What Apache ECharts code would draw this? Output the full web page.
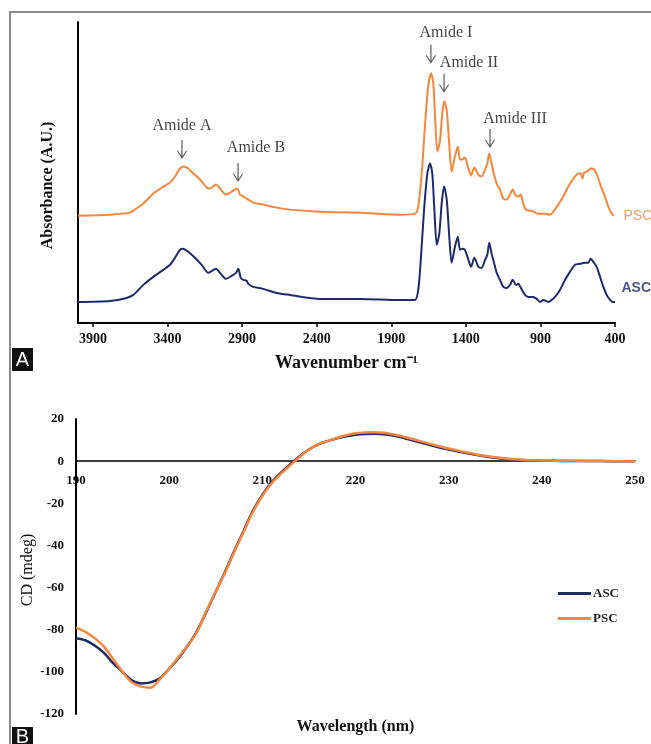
<!DOCTYPE html>
<html>
<head>
<meta charset="utf-8">
<script src="https://cdn.jsdelivr.net/npm/echarts@6/dist/echarts.min.js"></script>
<style>
  html, body { margin: 0; padding: 0; background: #fff; }
  #chart { width: 651px; height: 744px; }
</style>
</head>
<body>
<div id="chart"></div>
<script>
// ---- panel A : FTIR spectra (wavenumber cm-1 / absorbance A.U.) ----
const pscWn = [4000, 3785, 3651, 3618, 3562, 3495, 3428, 3383, 3350, 3316, 3294, 3261, 3227, 3182, 3137, 3115, 3075, 3048, 3008, 2970, 2932, 2914, 2892, 2858, 2825, 2758, 2668, 2579, 2378, 2110, 1841, 1741, 1719, 1696, 1674, 1652, 1633, 1618, 1605, 1591, 1573, 1558, 1544, 1528, 1513, 1495, 1473, 1454, 1439, 1424, 1406, 1387, 1365, 1343, 1316, 1294, 1271, 1256, 1243, 1227, 1211, 1193, 1171, 1149, 1126, 1104, 1086, 1070, 1048, 1032, 1019, 1003, 981, 958, 936, 914, 891, 869, 836, 814, 780, 747, 713, 679, 646, 630, 619, 606, 586, 572, 556, 534, 512, 489, 467, 445, 422, 407];
const pscAbs = [1.07, 1.08, 1.10, 1.13, 1.19, 1.29, 1.36, 1.40, 1.46, 1.54, 1.56, 1.54, 1.49, 1.43, 1.35, 1.34, 1.38, 1.34, 1.28, 1.31, 1.34, 1.28, 1.26, 1.23, 1.20, 1.18, 1.15, 1.13, 1.11, 1.10, 1.08, 1.09, 1.16, 1.49, 1.96, 2.36, 2.49, 2.39, 2.02, 1.71, 1.82, 2.09, 2.21, 2.12, 1.82, 1.51, 1.66, 1.76, 1.63, 1.63, 1.65, 1.56, 1.47, 1.55, 1.48, 1.46, 1.53, 1.59, 1.69, 1.59, 1.48, 1.39, 1.33, 1.24, 1.23, 1.28, 1.33, 1.28, 1.26, 1.28, 1.21, 1.14, 1.12, 1.12, 1.10, 1.09, 1.09, 1.09, 1.08, 1.11, 1.18, 1.26, 1.36, 1.44, 1.49, 1.49, 1.44, 1.50, 1.51, 1.53, 1.54, 1.52, 1.44, 1.34, 1.26, 1.16, 1.09, 1.07];
const ascWn = [4000, 3785, 3674, 3629, 3562, 3495, 3428, 3383, 3350, 3316, 3298, 3261, 3216, 3171, 3126, 3075, 3048, 3008, 2970, 2941, 2925, 2909, 2892, 2869, 2858, 2825, 2758, 2668, 2579, 2378, 2110, 1841, 1741, 1719, 1702, 1680, 1658, 1640, 1625, 1611, 1595, 1578, 1562, 1546, 1528, 1511, 1495, 1473, 1454, 1439, 1421, 1406, 1387, 1365, 1343, 1316, 1294, 1271, 1256, 1243, 1227, 1211, 1193, 1171, 1149, 1126, 1104, 1086, 1064, 1049, 1031, 1003, 981, 948, 925, 903, 881, 847, 824, 802, 769, 735, 702, 668, 635, 601, 579, 563, 545, 523, 500, 478, 456, 433, 415, 400];
const ascAbs = [0.21, 0.22, 0.25, 0.28, 0.38, 0.46, 0.53, 0.58, 0.65, 0.73, 0.74, 0.71, 0.65, 0.58, 0.50, 0.54, 0.50, 0.44, 0.47, 0.50, 0.54, 0.45, 0.43, 0.42, 0.39, 0.36, 0.34, 0.30, 0.28, 0.24, 0.24, 0.23, 0.23, 0.33, 0.63, 1.13, 1.49, 1.59, 1.49, 1.13, 0.78, 0.89, 1.19, 1.36, 1.23, 0.86, 0.60, 0.76, 0.86, 0.73, 0.74, 0.73, 0.65, 0.56, 0.65, 0.56, 0.55, 0.63, 0.68, 0.80, 0.69, 0.60, 0.50, 0.43, 0.36, 0.35, 0.38, 0.43, 0.38, 0.39, 0.35, 0.28, 0.26, 0.26, 0.24, 0.21, 0.23, 0.21, 0.23, 0.26, 0.33, 0.43, 0.51, 0.58, 0.59, 0.60, 0.60, 0.64, 0.61, 0.56, 0.46, 0.36, 0.28, 0.23, 0.21, 0.21];

// peak annotations
const amideNames = ['Amide A', 'Amide B', 'Amide I', 'Amide II', 'Amide III'];
const amideTextWn = [3303, 2807, 1533, 1379, 1070];
const amideTextAbs = [1.97, 1.75, 2.89, 2.59, 2.04];
const amideArrowWn = [3303, 2927, 1634, 1546, 1238];
const amideArrowAbs = [1.73, 1.50, 2.68, 2.39, 1.84];

// ---- panel B : CD spectra ----
const cdNm = [190, 191, 192, 193, 194, 195, 196, 197, 198, 199, 200, 201, 202, 203, 204, 205, 206, 207, 208, 209, 210, 211, 212, 213, 214, 215, 216, 217, 218, 219, 220, 221, 222, 223, 224, 225, 226, 227, 228, 229, 230, 231, 232, 233, 234, 235, 236, 237, 238, 239, 240, 241, 242, 243, 244, 245, 246, 247, 248, 249, 250];
const ascCd = [-84, -85, -87.5, -91, -96, -100, -104, -105.5, -105, -103, -98.5, -93.5, -87.5, -80.5, -71.5, -62, -52.5, -42.5, -33, -23.5, -16, -10, -5.5, -1.5, 2.3, 5.5, 8, 9.5, 10.8, 11.8, 12.5, 12.9, 13.0, 12.8, 12.2, 11.2, 10.0, 8.8, 7.6, 6.5, 5.5, 4.6, 3.7, 2.9, 2.2, 1.6, 1.1, 0.8, 0.5, 0.3, 0.2, 0.15, 0.1, 0.1, 0.1, 0.05, 0.05, 0, 0, 0, 0];
const pscCd = [-79, -81, -84, -88, -94, -100, -105, -107, -107.5, -103.5, -98.5, -93, -87.5, -81, -71, -62, -53, -43, -33.5, -24, -16.5, -10.5, -6, -2, 2, 5.5, 8, 9.5, 11, 12.3, 13.2, 13.6, 13.7, 13.5, 12.8, 11.8, 10.6, 9.4, 8.2, 7.1, 6.0, 5.0, 4.1, 3.2, 2.4, 1.8, 1.3, 0.9, 0.6, 0.4, 0.3, 0.25, 0.2, 0.2, 0.15, 0.1, 0.1, 0.05, 0, 0, 0];
const cdMin = -120, cdMax = 20;

const ORANGE = '#f5863a';
const NAVY = '#1f2a6c';
const SERIF = '"Liberation Serif", "Times New Roman", serif';
const SANS = '"Liberation Sans", Arial, sans-serif';

const pairs = (xs, ys) => xs.map((x, i) => [x, ys[i]]);
const last = a => a[a.length - 1];

// open arrow (shaft + chevron) like the ones on the figure
const arrowPath = 'path://M4.4,0 L5.6,0 L5.6,16 L9.2,10.5 L10,11.2 L5,19 L0,11.2 L0.8,10.5 L4.4,16 Z';

const gridB = { left: 76, right: 16, top: 419, height: 295 };
// x axis of panel B sits on the zero line
const zeroOffset = -gridB.height * (0 - cdMin) / (cdMax - cdMin);

const chart = echarts.init(document.getElementById('chart'));

const option = {
  animation: false,
  backgroundColor: '#fff',
  grid: [
    { left: 78, right: 36, top: 22, height: 301, outerBoundsMode: 'none' },
    Object.assign({ outerBoundsMode: 'none' }, gridB)
  ],
  legend: {
    data: ['ASC', 'PSC'],
    orient: 'vertical',
    left: 553,
    top: 582,
    icon: 'rect',
    itemWidth: 33,
    itemHeight: 3,
    itemGap: 12,
    textStyle: { fontFamily: SERIF, fontWeight: 'bold', fontSize: 13, color: '#222', padding: [0, 0, 0, -3] }
  },
  xAxis: [
    {
      gridIndex: 0,
      type: 'value',
      min: 400,
      max: 4000,
      interval: 500,
      inverse: true,
      axisLine: { lineStyle: { color: '#000', width: 2 } },
      axisTick: { show: true, length: 4, lineStyle: { color: '#000', width: 1.5 } },
      axisLabel: { color: '#111', fontFamily: SERIF, fontWeight: 'bold', fontSize: 14, margin: 9, showMaxLabel: false, formatter: v => String(v) },
      splitLine: { show: false },
      name: 'Wavenumber cm⁻¹',
      nameLocation: 'middle',
      nameGap: 31,
      nameMoveOverlap: false,
      nameTextStyle: { color: '#111', fontFamily: SERIF, fontWeight: 'bold', fontSize: 18 }
    },
    {
      gridIndex: 1,
      type: 'value',
      min: 190,
      max: 250,
      interval: 10,
      offset: zeroOffset,
      axisLine: { onZero: false, lineStyle: { color: '#000', width: 1.5 } },
      axisTick: { show: false },
      axisLabel: { color: '#111', fontFamily: SERIF, fontWeight: 'bold', fontSize: 13, margin: 13 },
      splitLine: { show: false },
      name: 'Wavelength (nm)',
      nameLocation: 'middle',
      nameGap: 258,
      nameMoveOverlap: false,
      nameTextStyle: { color: '#111', fontFamily: SERIF, fontWeight: 'bold', fontSize: 16 }
    }
  ],
  yAxis: [
    {
      gridIndex: 0,
      type: 'value',
      min: 0,
      max: 3,
      axisLine: { show: true, lineStyle: { color: '#000', width: 2 } },
      axisTick: { show: false },
      axisLabel: { show: false },
      splitLine: { show: false },
      name: 'Absorbance (A.U.)',
      nameLocation: 'middle',
      nameGap: 22,
      nameMoveOverlap: false,
      nameTextStyle: { color: '#111', fontFamily: SERIF, fontWeight: 'bold', fontSize: 16, padding: [0, 26, 0, 0] }
    },
    {
      gridIndex: 1,
      type: 'value',
      min: cdMin,
      max: cdMax,
      interval: 20,
      axisLine: { show: true, onZero: false, lineStyle: { color: '#000', width: 2 } },
      axisTick: { show: false },
      axisLabel: { color: '#111', fontFamily: SERIF, fontWeight: 'bold', fontSize: 13, margin: 12 },
      splitLine: { show: false },
      name: 'CD (mdeg)',
      nameLocation: 'middle',
      nameGap: 40,
      nameMoveOverlap: false,
      nameTextStyle: { color: '#111', fontFamily: SERIF, fontSize: 16, padding: [0, 7, 0, 0] }
    }
  ],
  series: [
    {
      name: 'PSC (FTIR)',
      type: 'line',
      xAxisIndex: 0,
      yAxisIndex: 0,
      data: pairs(pscWn, pscAbs),
      showSymbol: false,
      smooth: 0.25,
      lineStyle: { color: ORANGE, width: 2 },
      itemStyle: { color: ORANGE }
    },
    {
      name: 'ASC (FTIR)',
      type: 'line',
      xAxisIndex: 0,
      yAxisIndex: 0,
      data: pairs(ascWn, ascAbs),
      showSymbol: false,
      smooth: 0.25,
      lineStyle: { color: NAVY, width: 2 },
      itemStyle: { color: NAVY }
    },
    {
      name: 'series names',
      type: 'scatter',
      xAxisIndex: 0,
      yAxisIndex: 0,
      data: [
        { value: [last(pscWn), last(pscAbs)], name: 'PSC',
          label: { color: ORANGE, distance: 9 } },
        { value: [last(ascWn), last(ascAbs)], name: 'ASC',
          label: { color: NAVY, fontWeight: 'bold', distance: 6, offset: [0, -14] } }
      ],
      symbolSize: 1,
      itemStyle: { color: 'rgba(0,0,0,0)' },
      label: { show: true, position: 'right', formatter: '{b}', fontFamily: SANS, fontSize: 14 },
      silent: true
    },
    {
      name: 'labels',
      type: 'scatter',
      xAxisIndex: 0,
      yAxisIndex: 0,
      data: pairs(amideTextWn, amideTextAbs).map((p, i) => ({ value: p, name: amideNames[i] })),
      symbolSize: 1,
      itemStyle: { color: 'rgba(0,0,0,0)' },
      label: { show: true, position: 'inside', formatter: '{b}', color: '#111', fontFamily: SERIF, fontSize: 16 },
      silent: true
    },
    {
      name: 'arrows',
      type: 'scatter',
      xAxisIndex: 0,
      yAxisIndex: 0,
      data: pairs(amideArrowWn, amideArrowAbs),
      symbol: arrowPath,
      symbolSize: [10, 19],
      itemStyle: { color: '#333' },
      silent: true
    },
    {
      name: 'ASC',
      type: 'line',
      xAxisIndex: 1,
      yAxisIndex: 1,
      data: pairs(cdNm, ascCd),
      showSymbol: false,
      smooth: 0.3,
      lineStyle: { color: NAVY, width: 2.5 },
      itemStyle: { color: NAVY }
    },
    {
      name: 'PSC',
      type: 'line',
      xAxisIndex: 1,
      yAxisIndex: 1,
      data: pairs(cdNm, pscCd),
      showSymbol: false,
      smooth: 0.3,
      lineStyle: { color: ORANGE, width: 2.5 },
      itemStyle: { color: ORANGE }
    }
  ],
  graphic: [
    { type: 'line', shape: { x1: 10, y1: 12, x2: 651, y2: 12 }, style: { stroke: '#8a8a8a', lineWidth: 2 } },
    { type: 'line', shape: { x1: 10, y1: 11, x2: 10, y2: 744 }, style: { stroke: '#8a8a8a', lineWidth: 2 } },
    { type: 'rect', shape: { x: 12, y: 348, width: 21, height: 23 }, style: { fill: '#111' } },
    { type: 'text', x: 22.5, y: 360, style: { text: 'A', fill: '#fff', font: '20px "Liberation Sans", Arial', align: 'center', verticalAlign: 'middle', textAlign: 'center', textVerticalAlign: 'middle' } },
    { type: 'rect', shape: { x: 12, y: 727, width: 21, height: 17 }, style: { fill: '#111' } },
    { type: 'text', x: 22.5, y: 737, style: { text: 'B', fill: '#fff', font: '20px "Liberation Sans", Arial', align: 'center', verticalAlign: 'middle', textAlign: 'center', textVerticalAlign: 'middle' } }
  ]
};

chart.setOption(option);
</script>
</body>
</html>
